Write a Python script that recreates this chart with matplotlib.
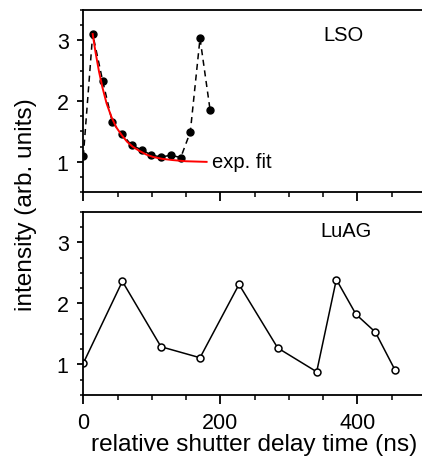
import matplotlib
matplotlib.use("Agg")
import matplotlib.pyplot as plt
from matplotlib.ticker import MultipleLocator

plt.rcParams["font.family"] = ["Liberation Sans", "DejaVu Sans"]

# LSO data (top panel), filled dots + dashed line
lso_t = [0, 13.7, 28.3, 42.4, 56.5, 70.6, 85.2, 99.3, 113.9, 128, 142.2, 156.2, 170.4, 185]
lso_i = [1.09, 3.10, 2.33, 1.65, 1.46, 1.27, 1.20, 1.11, 1.08, 1.11, 1.07, 1.49, 3.03, 1.86]

# exp. fit curve
fit_t = [13.7, 18, 23, 28, 34, 41, 48, 56, 64, 72, 82, 92, 102, 115, 130, 150, 180]
fit_i = [3.10, 2.79, 2.48, 2.22, 1.96, 1.74, 1.57, 1.44, 1.33, 1.25, 1.18, 1.12, 1.08, 1.05, 1.03, 1.01, 1.00]

# LuAG data (bottom panel), open circles + solid line
luag_t = [0, 57, 113.4, 170.4, 227.3, 283.8, 340.7, 369.4, 398.1, 426.3, 455]
luag_i = [1.02, 2.36, 1.29, 1.11, 2.31, 1.27, 0.88, 2.39, 1.82, 1.53, 0.91]

fig = plt.figure(figsize=(4.22, 4.64), dpi=100)
W, H = 422, 464
left = 83.3 / W
width = (425.8 - 83.3) / W
ax1 = fig.add_axes([left, 1 - 193.3 / H, width, (193.3 - 10.7) / H])
ax2 = fig.add_axes([left, 1 - 396 / H, width, (396 - 212.7) / H])

ax1.plot(lso_t, lso_i, "k--", lw=1.1, dashes=(4, 3), marker="o", ms=5, mfc="k", mec="k")
ax1.plot(fit_t, fit_i, color="red", lw=1.4)
ax1.text(188, 1.0, "exp. fit", fontsize=14.5, ha="left", va="center")
ax1.text(380, 3.10, "LSO", fontsize=14.5, ha="center", va="center")

ax2.plot(luag_t, luag_i, "k-", lw=1.1, marker="o", ms=5, mfc="white", mec="k", mew=1.1)
ax2.text(383, 3.20, "LuAG", fontsize=14.5, ha="center", va="center")

for ax in (ax1, ax2):
    ax.set_xlim(0, 500)
    ax.set_ylim(0.5, 3.5)
    ax.xaxis.set_major_locator(MultipleLocator(200))
    ax.xaxis.set_minor_locator(MultipleLocator(50))
    ax.yaxis.set_major_locator(MultipleLocator(1))
    ax.yaxis.set_minor_locator(MultipleLocator(0.25))
    ax.spines["right"].set_visible(False)
    for s in ("left", "top", "bottom"):
        ax.spines[s].set_linewidth(1.3)
    ax.tick_params(axis="x", which="major", direction="out", length=6.5, width=1.3, labelsize=15.5, pad=6)
    ax.tick_params(axis="x", which="minor", direction="out", length=3.5, width=1.1)
    ax.tick_params(axis="y", which="major", direction="out", length=4.5, width=1.3, labelsize=15.5, pad=6)
    ax.tick_params(axis="y", which="minor", direction="out", length=2.5, width=1.1)
    ax.tick_params(top=False, right=False, which="both")

ax1.tick_params(axis="x", labelbottom=False)
ax2.set_xlabel("relative shutter delay time (ns)", fontsize=17.6, labelpad=0)
fig.text(26 / W, 1 - 205 / H, "intensity (arb. units)", fontsize=17.6, rotation=90, ha="center", va="center")

fig.savefig("out.png", dpi=100)
